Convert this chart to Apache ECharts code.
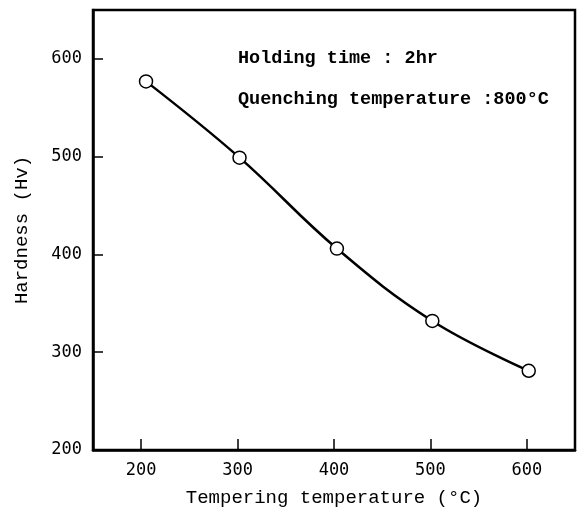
<!DOCTYPE html>
<html><head><meta charset="utf-8">
<script src="https://cdn.jsdelivr.net/npm/echarts@6/dist/echarts.min.js"></script>
<style>html,body{margin:0;padding:0;background:#fff}#c{width:587px;height:516px}</style>
</head><body><div id="c"></div>
<script>
const temperatures = [205, 302, 403, 502, 602];
const hardness = [577, 499, 406, 332, 281];
const xTicks = [200, 300, 400, 500, 600];
const yTicks = [200, 300, 400, 500, 600];
const xTitle = 'Tempering temperature (°C)';
const yTitle = 'Hardness (Hv)';
const notes = ['Holding time : 2hr', 'Quenching temperature :800°C'];

const chart = echarts.init(document.getElementById('c'), null, {renderer: 'canvas'});
const mono = '"Liberation Mono", "DejaVu Sans Mono", monospace';
const labelFont = '"DejaVu Sans Mono", monospace';
chart.setOption({
  animation: false,
  backgroundColor: '#fff',
  grid: {left: 93, right: 12, top: 10, bottom: 66, show: true, borderColor: '#000', borderWidth: 2.5, backgroundColor: 'transparent'},
  xAxis: {
    type: 'value', min: 150, max: 650,
    name: xTitle, nameLocation: 'middle', nameGap: 38,
    nameTextStyle: {fontFamily: mono, fontSize: 19, color: '#000'},
    axisLine: {show: true, lineStyle: {color: '#000', width: 2.5}},
    axisTick: {show: true, inside: true, length: 11, customValues: xTicks, lineStyle: {color: '#000', width: 1.5}},
    axisLabel: {customValues: xTicks, margin: 12, fontFamily: labelFont, fontSize: 17, color: '#000'},
    splitLine: {show: false}
  },
  yAxis: {
    type: 'value', min: 200, max: 650,
    name: yTitle, nameLocation: 'middle', nameGap: 62, nameRotate: 90,
    nameTextStyle: {fontFamily: mono, fontSize: 19, color: '#000'},
    axisLine: {show: true, lineStyle: {color: '#000', width: 2.5}},
    axisTick: {show: true, inside: true, length: 10, customValues: yTicks, lineStyle: {color: '#000', width: 1.5}},
    axisLabel: {customValues: yTicks, margin: 11, fontFamily: labelFont, fontSize: 17, color: '#000'},
    splitLine: {show: false}
  },
  graphic: [
    {type: 'text', x: 238, y: 58, style: {text: notes[0], font: 'bold 18.5px ' + mono, fill: '#000', verticalAlign: 'middle'}},
    {type: 'text', x: 238, y: 99, style: {text: notes[1], font: 'bold 18.5px ' + mono, fill: '#000', verticalAlign: 'middle'}}
  ],
  series: [{
    type: 'line',
    data: temperatures.map((t, i) => [t, hardness[i]]),
    smooth: 0.4,
    symbol: 'circle', symbolSize: 13,
    lineStyle: {color: '#000', width: 2.5},
    itemStyle: {color: '#fff', borderColor: '#000', borderWidth: 1.5},
    z: 3
  }]
});
</script></body></html>
